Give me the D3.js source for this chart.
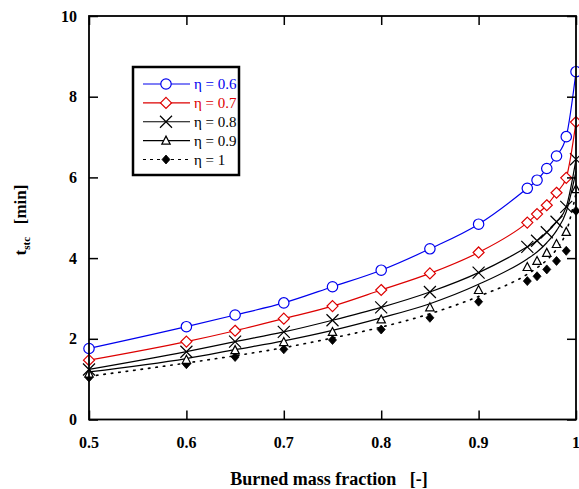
<!DOCTYPE html>
<html>
<head>
<meta charset="utf-8">
<script src="https://cdn.jsdelivr.net/npm/d3@7"></script>
<style>
  html, body { margin: 0; padding: 0; background: #fff; }
  svg { display: block; }
  text { font-family: "Liberation Serif", "Times New Roman", serif; }
</style>
</head>
<body>
<svg id="chart" width="579" height="489"></svg>
<script>
// Burned mass fraction sample points
const fractions = [0.5, 0.6, 0.65, 0.7, 0.75, 0.8, 0.85, 0.9, 0.95, 0.96, 0.97, 0.98, 0.99, 1.0];

// t_stc [min] for each efficiency (markers)
const eta06 = [1.76, 2.30, 2.59, 2.89, 3.29, 3.70, 4.23, 4.84, 5.73, 5.93, 6.22, 6.53, 7.01, 8.62];
const eta07 = [1.47, 1.93, 2.20, 2.50, 2.81, 3.21, 3.62, 4.14, 4.88, 5.09, 5.31, 5.62, 5.99, 7.37];
const eta08 = [1.24, 1.68, 1.93, 2.17, 2.46, 2.78, 3.16, 3.64, 4.28, 4.43, 4.64, 4.90, 5.27, 6.45];
const eta09 = [1.14, 1.48, 1.72, 1.92, 2.17, 2.48, 2.78, 3.21, 3.78, 3.93, 4.13, 4.35, 4.65, 5.71];
const eta10 = [1.04, 1.37, 1.55, 1.74, 1.97, 2.23, 2.52, 2.92, 3.43, 3.55, 3.72, 3.93, 4.18, 5.17];

// Curves drawn for eta = 0.9 and eta = 1
const eta09Curve = [1.18, 1.51, 1.73, 1.95, 2.21, 2.52, 2.87, 3.35, 3.98, 4.15, 4.38, 4.68, 5.15, 6.15];
const eta10Curve = [1.07, 1.40, 1.58, 1.78, 2.02, 2.29, 2.62, 3.05, 3.60, 3.76, 3.95, 4.22, 4.65, 5.60];

const seriesLabels = ["\u03b7 = 0.6", "\u03b7 = 0.7", "\u03b7 = 0.8", "\u03b7 = 0.9", "\u03b7 = 1"];

const xTicks = [0.5, 0.6, 0.7, 0.8, 0.9, 1.0];
const xTickLabels = ["0.5", "0.6", "0.7", "0.8", "0.9", "1"];
const yTicks = [0, 2, 4, 6, 8, 10];
const yTickLabels = ["0", "2", "4", "6", "8", "10"];

const xTitle = "Burned mass fraction\u00a0\u00a0\u00a0[-]";

const series = [
  { label: seriesLabels[0], marks: eta06, curve: eta06, color: "#0000ee", text: "#0000ee", marker: "circle", dash: null },
  { label: seriesLabels[1], marks: eta07, curve: eta07, color: "#dd0000", text: "#dd0000", marker: "diamond", dash: null },
  { label: seriesLabels[2], marks: eta08, curve: eta08, color: "#000", text: "#000", marker: "cross", dash: null },
  { label: seriesLabels[3], marks: eta09, curve: eta09Curve, color: "#000", text: "#000", marker: "triangle", dash: null },
  { label: seriesLabels[4], marks: eta10, curve: eta10Curve, color: "#000", text: "#000", marker: "filledDiamond", dash: "1.5,6" }
];

const svg = d3.select("#chart");
const plotLeft = 89, plotRight = 576, plotTop = 16, plotBottom = 419.5;

const x = d3.scaleLinear().domain([0.5, 1.0]).range([plotLeft, plotRight]);
const y = d3.scaleLinear().domain([0, 10]).range([plotBottom, plotTop]);

// Series lines
const line = d3.line()
  .x((d, i) => x(fractions[i]))
  .y(d => y(d))
  .curve(d3.curveMonotoneX);

function drawMarker(g, type, color) {
  if (type === "circle") {
    g.append("circle").attr("r", 5.2).attr("fill", "#fff").attr("stroke", color).attr("stroke-width", 1.2);
  } else if (type === "diamond") {
    g.append("path").attr("d", "M0,-5.5L5.5,0L0,5.5L-5.5,0Z").attr("fill", "#fff").attr("stroke", color).attr("stroke-width", 1.2);
  } else if (type === "cross") {
    g.append("path").attr("d", "M-6,-6L6,6M-6,6L6,-6").attr("fill", "none").attr("stroke", color).attr("stroke-width", 1.2);
  } else if (type === "triangle") {
    g.append("path").attr("d", "M0,-4.5L4.2,3.5L-4.2,3.5Z").attr("fill", "#fff").attr("stroke", color).attr("stroke-width", 1.2);
  } else if (type === "filledDiamond") {
    g.append("path").attr("d", "M0,-4.5L4,0L0,4.5L-4,0Z").attr("fill", color).attr("stroke", color).attr("stroke-width", 0.8);
  }
}

const plot = svg.append("g");
series.slice().reverse().forEach(s => {
  plot.append("path")
    .datum(s.curve)
    .attr("d", line)
    .attr("fill", "none")
    .attr("stroke", s.color)
    .attr("stroke-width", s.dash ? 1.6 : 1.2)
    .attr("stroke-dasharray", s.dash)
    .attr("stroke-linecap", s.dash ? "round" : "butt");
  s.marks.forEach((v, i) => {
    const g = plot.append("g").attr("transform", `translate(${x(fractions[i])},${y(v)})`);
    drawMarker(g, s.marker, s.color);
  });
});

// Frame with inward ticks on all four sides
const tickLen = 9;
const axes = svg.append("g").attr("stroke", "#000").attr("fill", "none");
axes.append("rect")
  .attr("x", plotLeft).attr("y", plotTop)
  .attr("width", plotRight - plotLeft).attr("height", plotBottom - plotTop)
  .attr("stroke-width", 1.8);

const xAxisBottom = d3.axisBottom(x).tickValues(xTicks).tickSize(-tickLen).tickFormat("");
const xAxisTop = d3.axisTop(x).tickValues(xTicks).tickSize(-tickLen).tickFormat("");
const yAxisLeft = d3.axisLeft(y).tickValues(yTicks).tickSize(-tickLen).tickFormat("");
const yAxisRight = d3.axisRight(y).tickValues(yTicks).tickSize(-tickLen).tickFormat("");

[[xAxisBottom, `translate(0,${plotBottom})`], [xAxisTop, `translate(0,${plotTop})`],
 [yAxisLeft, `translate(${plotLeft},0)`], [yAxisRight, `translate(${plotRight},0)`]].forEach(([ax, tr]) => {
  const g = svg.append("g").attr("transform", tr).call(ax);
  g.select(".domain").remove();
  g.selectAll(".tick line").attr("stroke", "#000").attr("stroke-width", 1.5);
});

// Tick labels
svg.append("g").selectAll("text").data(xTicks).join("text")
  .attr("x", d => x(d)).attr("y", 448)
  .attr("text-anchor", "middle")
  .attr("font-size", 16).attr("font-weight", "bold")
  .text((d, i) => xTickLabels[i]);

svg.append("g").selectAll("text").data(yTicks).join("text")
  .attr("x", 77).attr("y", d => y(d) + 5.5)
  .attr("text-anchor", "end")
  .attr("font-size", 16).attr("font-weight", "bold")
  .text((d, i) => yTickLabels[i]);

// Axis titles
svg.append("text")
  .attr("x", 329).attr("y", 485)
  .attr("text-anchor", "middle")
  .attr("font-size", 18).attr("font-weight", "bold")
  .text(xTitle);

const yTitle = svg.append("text")
  .attr("transform", "translate(26,220) rotate(-90)")
  .attr("text-anchor", "middle")
  .attr("font-size", 17).attr("font-weight", "bold");
yTitle.append("tspan").text("t");
yTitle.append("tspan").attr("font-size", 11).attr("dy", 4).text("stc");
yTitle.append("tspan").attr("dy", -4).text("\u00a0\u00a0\u00a0[min]");

// Legend
const legend = svg.append("g");
legend.append("rect")
  .attr("x", 133).attr("y", 67).attr("width", 106).attr("height", 108)
  .attr("fill", "#fff").attr("stroke", "#000").attr("stroke-width", 2.5);

const rowY = d3.scaleLinear().domain([0, 4]).range([84, 159.5]);
series.forEach((s, i) => {
  const yy = rowY(i);
  legend.append("line")
    .attr("x1", 143).attr("x2", 190).attr("y1", yy).attr("y2", yy)
    .attr("stroke", s.color).attr("stroke-width", 1.2)
    .attr("stroke-dasharray", s.dash ? "3,4" : null);
  const g = legend.append("g").attr("transform", `translate(166,${yy})`);
  drawMarker(g, s.marker, s.color);
  legend.append("text")
    .attr("x", 194).attr("y", yy + 5)
    .attr("font-size", 15).attr("fill", s.text)
    .text(s.label);
});
</script>
</body>
</html>
